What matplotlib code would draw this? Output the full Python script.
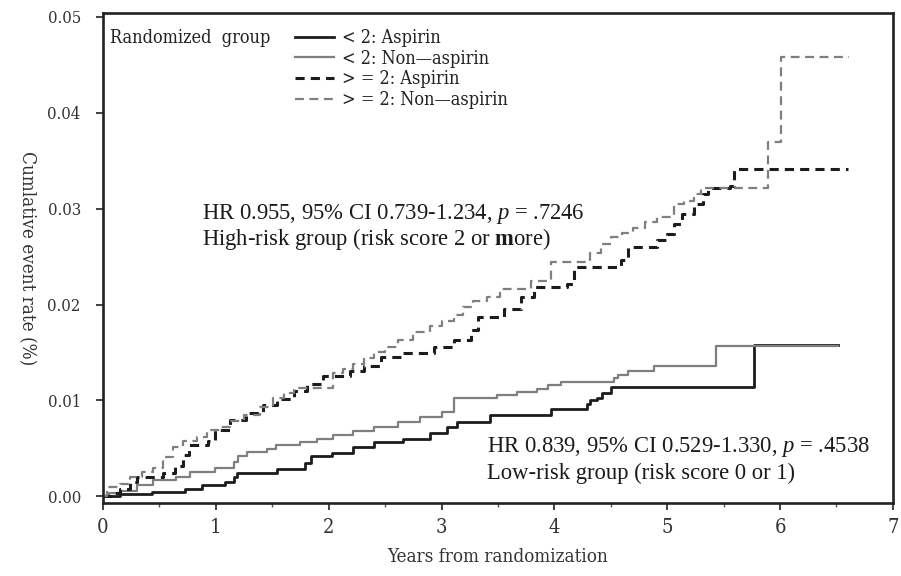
import matplotlib
matplotlib.use('Agg')
import matplotlib.pyplot as plt
from matplotlib.ticker import MultipleLocator

# data (years, cumulative event rate)
low_asp_t = [0, 0.15, 0.43, 0.73, 0.88, 1.08, 1.16, 1.19, 1.54, 1.79,
             1.84, 2.03, 2.22, 2.40, 2.66, 2.90, 3.05, 3.14, 3.43, 3.97,
             4.29, 4.32, 4.38, 4.42, 4.50, 5.77, 6.51]
low_asp_y = [0, 0.0002, 0.00045, 0.0008, 0.00115, 0.0015, 0.002, 0.0024, 0.0028, 0.0035,
             0.0042, 0.0045, 0.0051, 0.0057, 0.0060, 0.0066, 0.0072, 0.0078, 0.0085, 0.0091,
             0.0096, 0.0100, 0.0103, 0.0108, 0.0114, 0.0158, 0.0158]

low_non_t = [0, 0.05, 0.15, 0.30, 0.44, 0.65, 0.77, 0.99, 1.16, 1.20,
             1.28, 1.45, 1.53, 1.75, 1.90, 2.04, 2.22, 2.40, 2.61, 2.81,
             3.00, 3.11, 3.49, 3.67, 3.85, 3.94, 4.06, 4.53, 4.56, 4.65,
             4.88, 5.43, 6.51]
low_non_y = [0, 0.0003, 0.0006, 0.00115, 0.0017, 0.002, 0.0025, 0.0030, 0.0036, 0.0042,
             0.0046, 0.0049, 0.0053, 0.0057, 0.0060, 0.0064, 0.0068, 0.0072, 0.0077, 0.0083,
             0.0088, 0.0102, 0.0106, 0.0109, 0.0112, 0.0116, 0.0119, 0.0123, 0.0126, 0.0131,
             0.0136, 0.0157, 0.0157]

high_asp_t = [0, 0.07, 0.15, 0.24, 0.30, 0.53, 0.64, 0.71, 0.76, 0.93,
              0.99, 1.13, 1.27, 1.42, 1.54, 1.69, 1.81, 1.95, 2.19, 2.31,
              2.46, 2.66, 2.93, 3.11, 3.26, 3.32, 3.55, 3.70, 3.82, 4.11,
              4.17, 4.59, 4.65, 4.91, 5.00, 5.06, 5.13, 5.24, 5.32, 5.36,
              5.56, 5.59, 6.60]
high_asp_y = [0, 0.0003, 0.0008, 0.0015, 0.002, 0.0024, 0.0032, 0.0043, 0.0053, 0.0058,
              0.0069, 0.0080, 0.0087, 0.0095, 0.0101, 0.0110, 0.0117, 0.0125, 0.0131, 0.0136,
              0.0145, 0.0149, 0.0156, 0.0163, 0.0173, 0.0187, 0.0195, 0.0208, 0.0218, 0.0221,
              0.0239, 0.0246, 0.0260, 0.0267, 0.0274, 0.0284, 0.0294, 0.0305, 0.0315, 0.0322,
              0.0324, 0.0341, 0.0341]

high_non_t = [0, 0.04, 0.15, 0.24, 0.35, 0.44, 0.53, 0.62, 0.71, 0.83,
              0.92, 1.04, 1.13, 1.25, 1.39, 1.51, 1.60, 1.69, 2.04, 2.13,
              2.22, 2.31, 2.40, 2.50, 2.61, 2.75, 2.90, 3.00, 3.11, 3.19,
              3.28, 3.40, 3.52, 3.79, 3.97, 4.32, 4.41, 4.50, 4.60, 4.70,
              4.80, 4.91, 5.06, 5.15, 5.24, 5.30, 5.89, 6.01, 6.61]
high_non_y = [0, 0.001, 0.0013, 0.002, 0.0025, 0.003, 0.0041, 0.0051, 0.0058, 0.0062,
              0.0069, 0.0072, 0.0079, 0.0085, 0.0093, 0.0103, 0.0108, 0.0113, 0.0129, 0.0133,
              0.0138, 0.0144, 0.0150, 0.0156, 0.0163, 0.0171, 0.0178, 0.0183, 0.0189, 0.0197,
              0.0204, 0.0208, 0.0216, 0.0225, 0.0244, 0.0254, 0.0263, 0.0270, 0.0275, 0.0280,
              0.0286, 0.0291, 0.0305, 0.0308, 0.0315, 0.0322, 0.0369, 0.0458, 0.0458]

labels = ['< 2: Aspirin', '< 2: Non\u2014aspirin', '> = 2: Aspirin', '> = 2: Non\u2014aspirin']
x_ticks = [0, 1, 2, 3, 4, 5, 6, 7]
y_ticks = [0.00, 0.01, 0.02, 0.03, 0.04, 0.05]

plt.rcParams['mathtext.fontset'] = 'custom'
plt.rcParams['mathtext.rm'] = 'Liberation Serif'
plt.rcParams['mathtext.it'] = 'Liberation Serif:italic'
plt.rcParams['mathtext.bf'] = 'Liberation Serif:bold'

sas = dict(family='DejaVu Serif', stretch='condensed')

fig = plt.figure(figsize=(9.01, 5.76), dpi=100)
ax = fig.add_axes([0.1143, 0.1267, 0.8767, 0.8507])

black = '#1c1c1c'
gray = '#7f7f7f'
ax.step(low_asp_t, low_asp_y, where='post', color=black, lw=2.0, label=labels[0])
ax.step(low_non_t, low_non_y, where='post', color=gray, lw=1.6, label=labels[1])
ax.step(high_asp_t, high_asp_y, where='post', color=black, lw=2.2, ls=(0, (3, 2)), label=labels[2])
ax.step(high_non_t, high_non_y, where='post', color=gray, lw=1.6, ls=(0, (4, 2.5)), label=labels[3])

ax.set_xlim(0, 7)
ax.set_ylim(-0.0007, 0.0504)
ax.set_xticks(x_ticks)
ax.set_yticks(y_ticks)
ax.xaxis.set_minor_locator(MultipleLocator(0.5))
ax.set_yticklabels(['%.2f' % v for v in y_ticks], fontsize=12, color='#333333', **sas)
ax.set_xticklabels([str(v) for v in x_ticks], fontsize=14.5, color='#333333', **sas)
ax.tick_params(axis='y', which='major', direction='out', length=5, width=1.3, color='#333333', pad=11)
ax.tick_params(axis='x', which='major', direction='out', length=5, width=1.3, color='#333333', pad=6)
ax.tick_params(axis='x', which='minor', direction='out', length=3, width=1.0, color='#555555')
for s in ax.spines.values():
    s.set_linewidth(1.9)
    s.set_color('#222222')

ax.set_xlabel('Years from randomization', fontsize=13.5, labelpad=8, color='#333333', **sas)
ax.set_ylabel('Cumlative event rate (%)', fontsize=13.5, rotation=270, color='#333333', **sas)
ax.yaxis.set_label_coords(-0.108, 0.5)

ax.text(0.009, 0.95, 'Randomized  group', transform=ax.transAxes, fontsize=13,
        va='center', ha='left', color='#222222', **sas)
leg = ax.legend(loc='upper left', bbox_to_anchor=(0.222, 1.0), frameon=False,
                handlelength=2.2, handletextpad=0.4, labelspacing=0.14,
                prop=dict(size=13, **sas))
for t in leg.get_texts():
    t.set_color('#222222')

ax.text(0.876, 0.0294, 'HR 0.955, 95% CI 0.739-1.234, $p$ = .7246', fontsize=16.3,
        family='Liberation Serif', color='#1a1a1a', va='center')
ax.text(0.876, 0.0268, r'High-risk group (risk score 2 or $\mathbf{m}$ore)', fontsize=16.3,
        family='Liberation Serif', color='#1a1a1a', va='center')
ax.text(3.40, 0.0051, 'HR 0.839, 95% CI 0.529-1.330, $p$ = .4538', fontsize=16.3,
        family='Liberation Serif', color='#1a1a1a', va='center')
ax.text(3.40, 0.0024, 'Low-risk group (risk score 0 or 1)', fontsize=16.3,
        family='Liberation Serif', color='#1a1a1a', va='center')

fig.savefig('out.png', dpi=100)
